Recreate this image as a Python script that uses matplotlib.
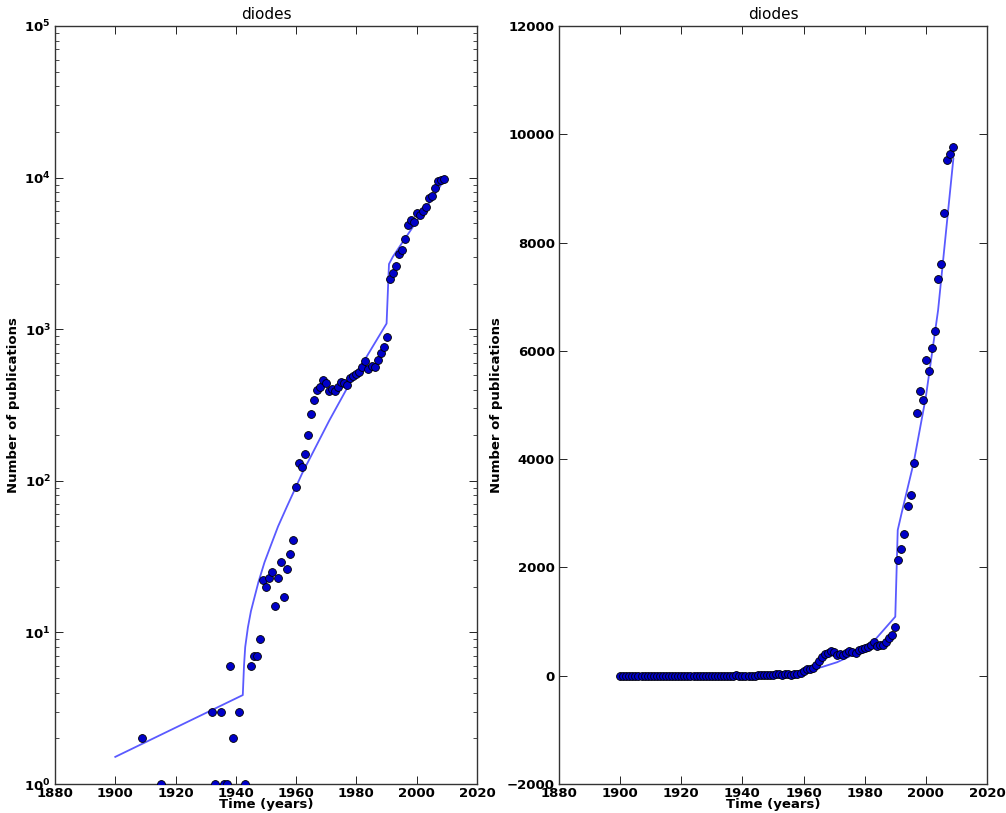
import numpy as np
import matplotlib
matplotlib.use("Agg")
import matplotlib.pyplot as plt
from matplotlib.ticker import MultipleLocator, LogLocator

# ---- data ----
years = list(range(1900, 2010))
counts = ([0] * 9 + [2] + [0] * 5 + [1] + [0] * 16 +
          [3, 1, 0, 3, 1, 1, 6, 2, 0, 3, 0, 1, 0,          # 1932-1944
           6, 7, 7, 9, 22, 20, 23, 25, 15, 23, 29, 17, 26, 33, 41,  # 1945-1959
           91, 132, 124, 150, 200, 275, 340, 397, 414, 462,  # 1960-1969
           444, 389, 403, 391, 414, 450, 440, 428, 479, 491,  # 1970-1979
           504, 525, 561, 620, 543, 574, 561, 626, 693, 760,  # 1980-1989
           893, 2143, 2349, 2612, 3133, 3330, 3937, 4845, 5250, 5100,  # 1990-1999
           5830, 5630, 6050, 6360, 7330, 7600, 8540, 9530, 9640, 9760])  # 2000-2009
assert len(counts) == len(years)

fit_years = [1900, 1942.3, 1942.7, 1943.1, 1944.0, 1945.0, 1946.0, 1947.5,
             1949.5, 1951.5, 1954.0, 1957.0, 1962.0, 1966.0, 1971.0, 1976.5,
             1983.0, 1990.0, 1990.8, 1992.1, 1996.0, 2000.0, 2004.0, 2009.0]
fit_values = [1.51, 3.86, 6.0, 8.0, 10.8, 13.8, 16.5, 21.5,
              29.0, 37.0, 50.0, 68.0, 112.0, 160.0, 250.0, 395.0,
              640.0, 1090.0, 2690.0, 3010.0, 3930.0, 5150.0, 6750.0, 9550.0]

title = "diodes"
xlabel = "Time (years)"
ylabel = "Number of publications"

# ---- style ----
plt.rcParams['font.family'] = ['DejaVu Sans']
plt.rcParams['xtick.direction'] = 'in'
plt.rcParams['ytick.direction'] = 'in'

fig = plt.figure(figsize=(10.06, 8.13), dpi=100)
ax1 = fig.add_axes([55/1006, 29/813, 422/1006, 758/813])
ax2 = fig.add_axes([559/1006, 29/813, 428/1006, 758/813])

line_color = '#5a5aff'
pt_face = '#0000c8'

y_arr = np.array(counts, dtype=float)
x_arr = np.array(years)

for ax in (ax1, ax2):
    ax.plot(fit_years, fit_values, color=line_color, lw=1.3, zorder=2)
    if ax is ax1:
        mask = y_arr > 0
        ax.scatter(x_arr[mask], y_arr[mask], s=32, facecolor=pt_face,
                   edgecolor='black', linewidth=0.6, zorder=3)
    else:
        ax.scatter(x_arr, y_arr, s=32, facecolor=pt_face,
                   edgecolor='black', linewidth=0.6, zorder=3)
    ax.set_xlim(1880, 2020)
    ax.xaxis.set_major_locator(MultipleLocator(20))
    ax.set_title(title, fontsize=11, pad=5)
    ax.set_xlabel(xlabel, fontsize=9.5, fontweight='bold', labelpad=-1)
    ax.set_ylabel(ylabel, fontsize=9.5, fontweight='bold', labelpad=3)
    ax.tick_params(which='both', top=True, right=True, labelsize=9.5)
    ax.tick_params(axis='x', which='major', pad=2)
    ax.tick_params(axis='y', which='major', pad=3)
    ax.tick_params(which='major', length=6, width=0.6)
    ax.tick_params(which='minor', length=3, width=0.5)
    for sp in ax.spines.values():
        sp.set_linewidth(1.0)
        sp.set_color('#333333')

ax1.set_yscale('log')
ax1.set_ylim(1, 1e5)
ax1.yaxis.set_major_locator(LogLocator(base=10, numticks=10))
ax1.yaxis.set_minor_locator(LogLocator(base=10, subs=np.arange(2, 10), numticks=10))

ax2.set_ylim(-2000, 12000)
ax2.yaxis.set_major_locator(MultipleLocator(2000))

for ax in (ax1, ax2):
    for lab in ax.get_xticklabels() + ax.get_yticklabels():
        lab.set_fontweight('bold')

fig.savefig("out.png", dpi=100)
